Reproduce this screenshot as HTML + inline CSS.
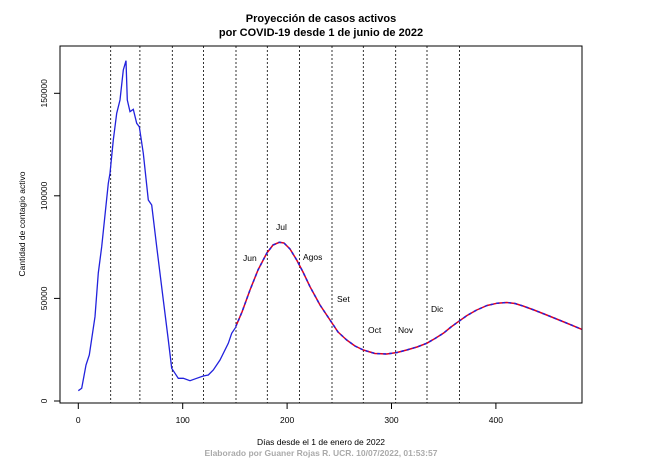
<!DOCTYPE html><html><head><style>body{margin:0;background:#fff}</style></head><body>
<svg width="646" height="460" xmlns="http://www.w3.org/2000/svg" font-family="Liberation Sans, sans-serif">
<rect width="646" height="460" fill="#fff"/>
<text x="321" y="22" font-size="11" font-weight="bold" text-anchor="middle">Proyección de casos activos</text>
<text x="321" y="36" font-size="11" font-weight="bold" text-anchor="middle">por COVID-19 desde 1 de junio de 2022</text>
<g stroke="#000" stroke-width="0.8" stroke-dasharray="2,2">
<line x1="110.7" y1="46" x2="110.7" y2="403"/><line x1="139.9" y1="46" x2="139.9" y2="403"/><line x1="172.3" y1="46" x2="172.3" y2="403"/><line x1="203.6" y1="46" x2="203.6" y2="403"/><line x1="236" y1="46" x2="236" y2="403"/><line x1="267.3" y1="46" x2="267.3" y2="403"/><line x1="299.6" y1="46" x2="299.6" y2="403"/><line x1="332" y1="46" x2="332" y2="403"/><line x1="363.3" y1="46" x2="363.3" y2="403"/><line x1="395.7" y1="46" x2="395.7" y2="403"/><line x1="427" y1="46" x2="427" y2="403"/><line x1="459.4" y1="46" x2="459.4" y2="403"/>
</g>
<rect x="60" y="46" width="522" height="357" fill="none" stroke="#000" stroke-width="1"/>
<polyline fill="none" stroke="#2222dd" stroke-width="1.3" points="78.3,390.7 81.7,388.3 86,365 89.3,355 95,316.7 98.3,273 101.7,246.7 108.3,183.3 110,173.3 113.3,140 116.7,113.3 120,100 123.3,70 126,60.7 127.3,100 130,111.7 133.3,109.3 136.7,123.3 139.3,126.7 143.3,153.3 148.3,200 151.7,205 156.7,246.7 163.3,300 168.3,340 171.7,368.3 175,373.3 178.3,378.3 183.3,378.3 190,380.7 196.7,378.3 203.3,376 208.3,375 213.3,370 220,360 228.3,343.3 231.7,333.3 235.7,327.3"/>
<g fill="none" stroke-width="1.5" stroke-linejoin="round">
<polyline stroke="#e00020" points="235.7,326.7 242,312 250,290 258,270 266.7,253.3 273,245 279.3,242.3 284,243 290,249 296.7,260 303,272 310,286.7 320,305 330,320 338,332 346.7,340 355,346 363.3,350 375,353.5 386.7,354 397,352.5 406.7,350 417,347 426.7,343.3 435,338.5 443.3,333.3 451,327 458.3,321.7 467,315.5 476.7,310 487,305.5 496.7,303.3 506.7,302.5 515,303.5 523,306 534,310 546.7,315 564,322 581.7,329.3"/>
<polyline stroke="#2222dd" stroke-dasharray="3,3" points="235.7,326.7 242,312 250,290 258,270 266.7,253.3 273,245 279.3,242.3 284,243 290,249 296.7,260 303,272 310,286.7 320,305 330,320 338,332 346.7,340 355,346 363.3,350 375,353.5 386.7,354 397,352.5 406.7,350 417,347 426.7,343.3 435,338.5 443.3,333.3 451,327 458.3,321.7 467,315.5 476.7,310 487,305.5 496.7,303.3 506.7,302.5 515,303.5 523,306 534,310 546.7,315 564,322 581.7,329.3"/>
</g>
<g font-size="8.5" fill="#000">
<text x="243" y="261">Jun</text><text x="276" y="230">Jul</text><text x="303" y="260">Agos</text><text x="337" y="302">Set</text><text x="368" y="333">Oct</text><text x="398" y="333">Nov</text><text x="431" y="312">Dic</text>
</g>
<g stroke="#000" stroke-width="1">
<line x1="78.3" y1="403" x2="78.3" y2="409"/><line x1="182.7" y1="403" x2="182.7" y2="409"/><line x1="287.1" y1="403" x2="287.1" y2="409"/><line x1="391.5" y1="403" x2="391.5" y2="409"/><line x1="495.9" y1="403" x2="495.9" y2="409"/>
<line x1="54" y1="401" x2="60" y2="401"/><line x1="54" y1="298.4" x2="60" y2="298.4"/><line x1="54" y1="195.8" x2="60" y2="195.8"/><line x1="54" y1="93.3" x2="60" y2="93.3"/>
</g>
<g font-size="8.5" text-anchor="middle">
<text x="78.3" y="423">0</text><text x="182.7" y="423">100</text><text x="287.1" y="423">200</text><text x="391.5" y="423">300</text><text x="495.9" y="423">400</text>
<text transform="translate(47,401) rotate(-90)">0</text><text transform="translate(47,298.4) rotate(-90)">50000</text><text transform="translate(47,195.8) rotate(-90)">100000</text><text transform="translate(47,93.3) rotate(-90)">150000</text>
<text x="321" y="445">Días desde el 1 de enero de 2022</text>
<text transform="translate(25,224) rotate(-90)">Cantidad de contagio activo</text>
<text x="321" y="456" fill="#aaa" font-weight="bold">Elaborado por Guaner Rojas R. UCR. 10/07/2022, 01:53:57</text>
</g>
</svg></body></html>
